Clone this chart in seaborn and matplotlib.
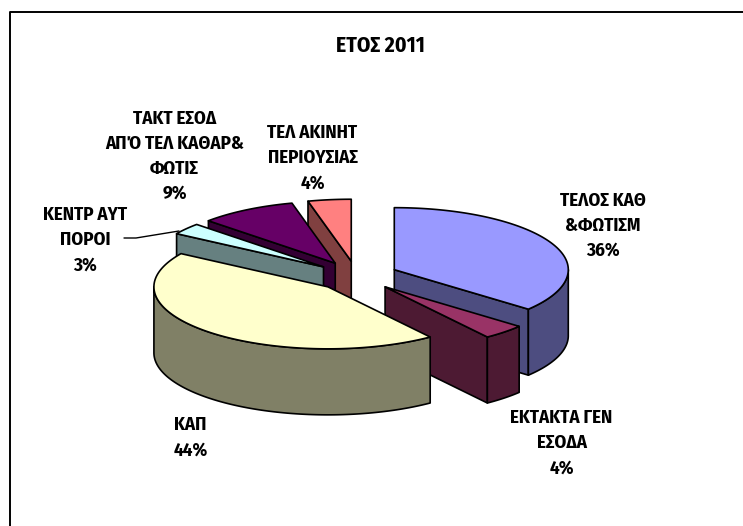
import numpy as np
import pandas as pd
import seaborn as sns
import matplotlib
matplotlib.use("Agg")
import matplotlib.pyplot as plt
from matplotlib import font_manager as fm
from matplotlib.patches import Polygon

# --- data ---
categories = ["ΤΕΛΟΣ ΚΑΘ\n&ΦΩΤΙΣΜ", "ΕΚΤΑΚΤΑ ΓΕΝ\nΕΣΟΔΑ", "ΚΑΠ",
              "ΚΕΝΤΡ ΑΥΤ\nΠΟΡΟΙ", "ΤΑΚΤ ΕΣΟΔ\nΑΠΌ ΤΕΛ ΚΑΘΑΡ&\nΦΩΤΙΣ",
              "ΤΕΛ ΑΚΙΝΗΤ\nΠΕΡΙΟΥΣΙΑΣ"]
values = [36, 4, 44, 3, 9, 4]
title = "ΕΤΟΣ 2011"
top_colors = ["#9999FF", "#993366", "#FFFFCC", "#CCFFFF", "#660066", "#FF8080"]
label_pos = [(603, 225.5), (561.5, 443), (190.5, 437.5), (85, 240), (174.5, 156), (312.5, 158)]

sns.set_theme(style="white")
names = {f.name for f in fm.fontManager.ttflist}
family = next((n for n in ["Liberation Sans Narrow", "Fira Sans Condensed", "Liberation Sans"] if n in names),
              "DejaVu Sans")
plt.rcParams["font.family"] = [family, "Liberation Sans", "DejaVu Sans"]

W, H = 743, 526
fig = plt.figure(figsize=(W / 100, H / 100), dpi=100, facecolor="white")
ax = fig.add_axes([0, 0, 1, 1])
ax.set_xlim(0, W)
ax.set_ylim(H, 0)
ax.axis("off")

# font sizes chosen so that the text keeps the widths it has in the reference
renderer = fig.canvas.get_renderer()


def size_for(text, px):
    probe = ax.text(0, 0, text, fontsize=10, fontweight="bold")
    w10 = probe.get_window_extent(renderer).width
    probe.remove()
    return 10 * px / w10


fs = size_for("ΤΕΛΟΣ ΚΑΘ", 86)
fs_title = size_for(title, 89)
probe = ax.text(0, 0, "lp", fontsize=fs, fontweight="bold")
_, lp_h, _ = renderer.get_text_width_height_descent("lp", probe.get_fontproperties(), False)
probe.remove()
spacing = 27 / lp_h

# --- projection of the tilted pie ---
cx, cy, rx, ry, depth, explode = 356.5, 276, 174, 62, 66, 0.24
df = pd.DataFrame({"cat": categories, "val": values})
df["share"] = df["val"] / df["val"].sum()
df["t1"] = df["share"].cumsum() * 2 * np.pi
df["t0"] = df["t1"].shift(fill_value=0.0)
df["mid"] = (df["t0"] + df["t1"]) / 2
top = sns.color_palette(top_colors)
df["top"] = top
df["side"] = [tuple(c * 0.5 for c in col) for col in top]


def rim(ox, oy, a):
    return np.column_stack([ox + rx * np.sin(a), oy - ry * np.cos(a)])


def add(pts, colour, z):
    ax.add_patch(Polygon(pts, closed=True, facecolor=colour, edgecolor="black",
                         linewidth=1.2, joinstyle="round", zorder=z))


df["key"] = (-np.cos(df["mid"])).round(6)
order = df.sort_values("key", ascending=True, kind="stable")
z = 2
for _, s in order.iterrows():
    ox = cx + explode * rx * np.sin(s["mid"])
    oy = cy - explode * ry * np.cos(s["mid"])
    apex = np.array([ox, oy])
    drop = np.array([0, depth])
    for t, visible in ((s["t0"], np.sin(s["t0"]) < -1e-9), (s["t1"], np.sin(s["t1"]) > 1e-9)):
        if visible:
            p = rim(ox, oy, np.array([t]))[0]
            add([apex, p, p + drop, apex + drop], s["side"], z)
            z += 1
    a0, a1 = max(s["t0"], np.pi / 2), min(s["t1"], 3 * np.pi / 2)
    if a1 > a0:
        edge = rim(ox, oy, np.linspace(a0, a1, 120))
        add(np.vstack([edge, (edge + drop)[::-1]]), s["side"], z)
        z += 1
    arc = rim(ox, oy, np.linspace(s["t0"], s["t1"], 160))
    add(np.vstack([apex, arc]), s["top"], z)
    z += 1

# --- frame: only the top and left sides are inside the picture ---
ax.plot([9.5, 9.5, W + 5], [H + 5, 12, 12], color="black", lw=1.4, zorder=1)

# --- texts ---
ax.text(380, 45.5, title, ha="center", va="center", fontsize=fs_title, fontweight="bold", color="black")
for (x, y), name, v in zip(label_pos, df["cat"], df["share"]):
    ax.text(x, y, f"{name}\n{v * 100:.0f}%", ha="center", va="center", fontsize=fs,
            fontweight="bold", color="black", linespacing=spacing, multialignment="center", zorder=50)

# leader line of the small slice
ax.plot([124, 136, 179], [238, 238, 231], color="black", lw=1.0, zorder=40)

fig.savefig("out.png", dpi=100, facecolor="white")
